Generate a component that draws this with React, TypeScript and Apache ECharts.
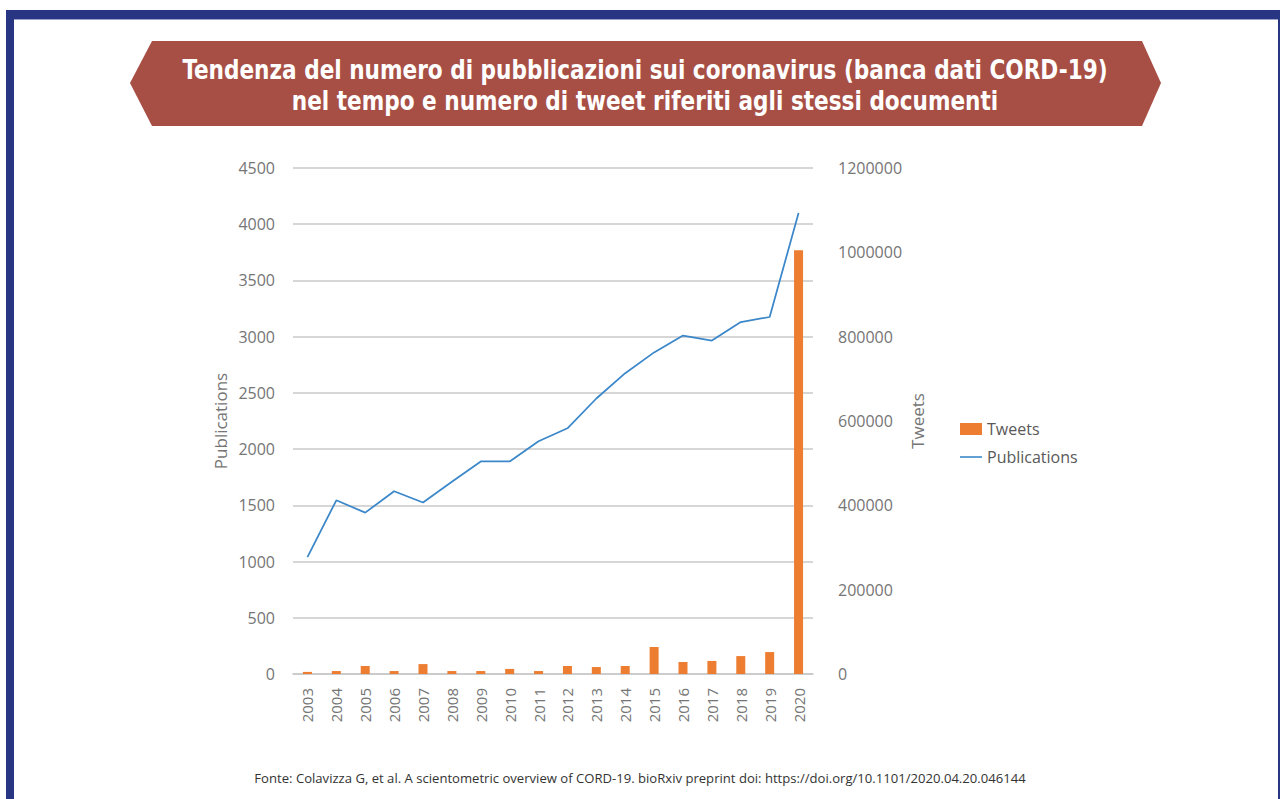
import React, { useEffect, useRef } from "react";
import * as echarts from "echarts";

const years = ["2003","2004","2005","2006","2007","2008","2009","2010","2011","2012","2013","2014","2015","2016","2017","2018","2019","2020"];
const publications = [1040, 1545, 1435, 1625, 1525, 1710, 1890, 1890, 2070, 2185, 2450, 2675, 2860, 3010, 2965, 3130, 3175, 4100];
const tweets = [5000, 7000, 19000, 7000, 23500, 7000, 7000, 12000, 7000, 19000, 16500, 19000, 64000, 28500, 31000, 42500, 52000, 1005000];

const titleLine1 = "Tendenza del numero di pubblicazioni sui coronavirus (banca dati CORD-19)";
const titleLine2 = "nel tempo e numero di tweet riferiti agli stessi documenti";
const sourceText = "Fonte: Colavizza G, et al. A scientometric overview of CORD-19. bioRxiv preprint doi: https://doi.org/10.1101/2020.04.20.046144";

const labelColor = "#757575";
const labelFont = '"Open Sans", "Noto Sans", sans-serif';
const titleFont = '"DejaVu Sans Condensed", "Liberation Sans Narrow", sans-serif';

export default function App() {
  const ref = useRef<HTMLDivElement>(null);
  useEffect(() => {
    if (!ref.current) return;
    const chart = echarts.init(ref.current, null, { renderer: "svg" });
    const plain = (v: number) => String(v);
    chart.setOption({
      animation: false,
      backgroundColor: "#ffffff",
      textStyle: { fontFamily: labelFont },
      grid: { left: 293, right: 467, top: 168, bottom: 125, containLabel: false },
      legend: {
        orient: "vertical",
        left: 955,
        top: 416,
        itemWidth: 22,
        itemHeight: 12,
        itemGap: 12,
        textStyle: { fontSize: 16, color: "#595959", fontFamily: labelFont },
        data: [
          { name: "Tweets", icon: "rect" },
          { name: "Publications", icon: "path://M0,0 L22,0 L22,1.6 L0,1.6 Z" },
        ],
      },
      xAxis: {
        type: "category",
        data: years,
        boundaryGap: true,
        axisLine: { show: true, lineStyle: { color: "#c8c8c8", width: 1.5 } },
        axisTick: { show: false },
        axisLabel: { rotate: 90, fontSize: 15, color: labelColor, margin: 14, fontFamily: labelFont, interval: 0 },
      },
      yAxis: [
        {
          type: "value",
          min: 0,
          max: 4500,
          interval: 500,
          name: "Publications",
          nameLocation: "middle",
          nameGap: 64,
          nameTextStyle: { fontSize: 17, color: labelColor, fontFamily: labelFont },
          axisLine: { show: false },
          axisTick: { show: false },
          axisLabel: { fontSize: 16, color: labelColor, margin: 18, fontFamily: labelFont, formatter: plain },
          splitLine: { show: true, lineStyle: { color: "#c8c8c8", width: 1.5 } },
        },
        {
          type: "value",
          min: 0,
          max: 1200000,
          interval: 200000,
          name: "Tweets",
          nameLocation: "middle",
          nameGap: 96,
          nameTextStyle: { fontSize: 17, color: labelColor, fontFamily: labelFont },
          axisLine: { show: false },
          axisTick: { show: false },
          axisLabel: { fontSize: 16, color: labelColor, margin: 25, fontFamily: labelFont, formatter: plain },
          splitLine: { show: false },
        },
      ],
      series: [
        {
          name: "Tweets",
          type: "bar",
          yAxisIndex: 1,
          data: tweets,
          barWidth: 9,
          itemStyle: { color: "#ED7D31" },
        },
        {
          name: "Publications",
          type: "line",
          yAxisIndex: 0,
          data: publications,
          symbol: "none",
          lineStyle: { color: "#3b87c9", width: 1.75 },
          itemStyle: { color: "#3b87c9" },
        },
      ],
      graphic: [
        { type: "rect", shape: { x: 6, y: 10, width: 1274, height: 9 }, style: { fill: "#283583" } },
        { type: "rect", shape: { x: 6, y: 19, width: 1274, height: 1 }, style: { fill: "#9aa3cc" } },
        { type: "rect", shape: { x: 6, y: 10, width: 8, height: 789 }, style: { fill: "#283583" } },
        { type: "rect", shape: { x: 1278, y: 10, width: 2, height: 789 }, style: { fill: "#283583" } },
        {
          type: "polygon",
          shape: { points: [[130, 83], [152, 41], [1142, 41], [1161, 83], [1142, 126], [152, 126]] },
          style: { fill: "#A84F45" },
        },
        {
          type: "text",
          x: 645,
          y: 69,
          scaleX: 0.89,
          style: { text: titleLine1, fill: "#ffffff", font: `bold 27px ${titleFont}`, align: "center", verticalAlign: "middle" },
        },
        {
          type: "text",
          x: 645,
          y: 100,
          scaleX: 0.89,
          style: { text: titleLine2, fill: "#ffffff", font: `bold 27px ${titleFont}`, align: "center", verticalAlign: "middle" },
        },
        {
          type: "text",
          x: 640,
          y: 778,
          style: { text: sourceText, fill: "#333333", font: `13.1px ${labelFont}`, align: "center", verticalAlign: "middle" },
        },
      ],
    });
    return () => chart.dispose();
  }, []);
  return <div ref={ref} style={{ position: "absolute", left: 0, top: 0, width: 1280, height: 799 }} />;
}
